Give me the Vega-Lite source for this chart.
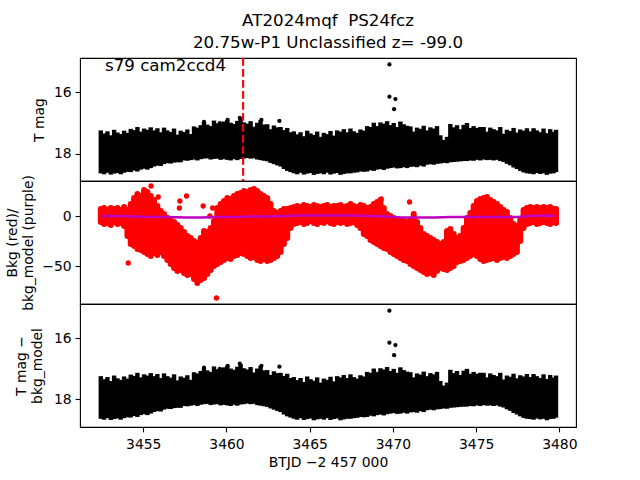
{
"$schema": "https://vega.github.io/schema/vega-lite/v6.json",
"padding": {"left": 4, "top": 12, "right": 5, "bottom": 5},
"spacing": 0,
"bounds": "flush",
"config": {
  "font": "DejaVu Sans",
  "view": {"stroke": "black", "strokeWidth": 1.1},
  "axis": {"labelFont": "DejaVu Sans", "titleFont": "DejaVu Sans", "labelFontSize": 13.9, "titleFontSize": 13.9, "labelColor": "black", "titleColor": "black", "tickColor": "black", "tickSize": 4.9, "tickWidth": 1.1, "labelPadding": 4, "domain": false, "grid": false, "titleFontWeight": "normal", "titleLineHeight": 16.7}
},
"datasets": {
  "lc": [
    {"t":3452.45,"hi":17.24,"lo":18.64},{"t":3452.65,"hi":17.34,"lo":18.67},{"t":3452.85,"hi":17.27,"lo":18.62},{"t":3453.05,"hi":17.40,"lo":18.68},
    {"t":3453.25,"hi":17.22,"lo":18.65},{"t":3453.45,"hi":17.31,"lo":18.63},{"t":3453.65,"hi":17.36,"lo":18.67},{"t":3453.85,"hi":17.25,"lo":18.62},
    {"t":3454.05,"hi":17.32,"lo":18.59},{"t":3454.25,"hi":17.19,"lo":18.60},{"t":3454.45,"hi":17.23,"lo":18.55},{"t":3454.65,"hi":17.13,"lo":18.58},
    {"t":3454.85,"hi":17.28,"lo":18.52},{"t":3455.05,"hi":17.18,"lo":18.49},{"t":3455.25,"hi":17.22,"lo":18.52},{"t":3455.45,"hi":17.14,"lo":18.47},
    {"t":3455.65,"hi":17.24,"lo":18.42},{"t":3455.85,"hi":17.17,"lo":18.39},{"t":3456.05,"hi":17.30,"lo":18.40},{"t":3456.25,"hi":17.15,"lo":18.34},
    {"t":3456.45,"hi":17.24,"lo":18.31},{"t":3456.65,"hi":17.29,"lo":18.32},{"t":3456.85,"hi":17.18,"lo":18.29},{"t":3457.05,"hi":17.38,"lo":18.28},
    {"t":3457.25,"hi":17.25,"lo":18.28},{"t":3457.45,"hi":17.29,"lo":18.22},{"t":3457.65,"hi":17.21,"lo":18.23},{"t":3457.85,"hi":17.36,"lo":18.21},
    {"t":3458.05,"hi":17.11,"lo":18.19},{"t":3458.25,"hi":17.15,"lo":18.22},{"t":3458.45,"hi":17.07,"lo":18.18},{"t":3458.65,"hi":16.97,"lo":18.16},
    {"t":3458.85,"hi":17.05,"lo":18.15},{"t":3459.05,"hi":17.10,"lo":18.19},{"t":3459.25,"hi":16.92,"lo":18.17},{"t":3459.45,"hi":17.01,"lo":18.16},
    {"t":3459.65,"hi":16.98,"lo":18.20},{"t":3459.85,"hi":16.95,"lo":18.18},{"t":3460.05,"hi":16.90,"lo":18.20},{"t":3460.25,"hi":16.99,"lo":18.22},
    {"t":3460.45,"hi":17.03,"lo":18.18},{"t":3460.65,"hi":16.93,"lo":18.21},{"t":3460.85,"hi":16.84,"lo":18.17},{"t":3461.05,"hi":16.98,"lo":18.16},
    {"t":3461.25,"hi":17.02,"lo":18.14},{"t":3461.45,"hi":16.94,"lo":18.16},{"t":3461.65,"hi":17.12,"lo":18.15},{"t":3461.85,"hi":16.99,"lo":18.19},
    {"t":3462.05,"hi":16.90,"lo":18.21},{"t":3462.25,"hi":17.05,"lo":18.23},{"t":3462.45,"hi":17.04,"lo":18.25},{"t":3462.65,"hi":17.20,"lo":18.30},
    {"t":3462.85,"hi":17.08,"lo":18.34},{"t":3463.05,"hi":17.14,"lo":18.38},{"t":3463.25,"hi":17.13,"lo":18.42},{"t":3463.45,"hi":17.23,"lo":18.50},
    {"t":3463.65,"hi":17.16,"lo":18.56},{"t":3463.85,"hi":17.30,"lo":18.60},{"t":3464.05,"hi":17.27,"lo":18.64},{"t":3464.25,"hi":17.37,"lo":18.67},
    {"t":3464.45,"hi":17.30,"lo":18.62},{"t":3464.65,"hi":17.43,"lo":18.68},{"t":3464.85,"hi":17.25,"lo":18.65},{"t":3465.05,"hi":17.34,"lo":18.63},
    {"t":3465.25,"hi":17.39,"lo":18.69},{"t":3465.45,"hi":17.28,"lo":18.66},{"t":3465.65,"hi":17.45,"lo":18.64},{"t":3465.85,"hi":17.32,"lo":18.67},
    {"t":3466.05,"hi":17.36,"lo":18.62},{"t":3466.25,"hi":17.26,"lo":18.68},{"t":3466.45,"hi":17.41,"lo":18.65},{"t":3466.65,"hi":17.24,"lo":18.63},
    {"t":3466.85,"hi":17.28,"lo":18.69},{"t":3467.05,"hi":17.20,"lo":18.66},{"t":3467.25,"hi":17.30,"lo":18.64},{"t":3467.45,"hi":17.18,"lo":18.64},
    {"t":3467.65,"hi":17.27,"lo":18.62},{"t":3467.85,"hi":17.32,"lo":18.61},{"t":3468.05,"hi":17.21,"lo":18.58},{"t":3468.25,"hi":17.25,"lo":18.59},
    {"t":3468.45,"hi":17.10,"lo":18.58},{"t":3468.65,"hi":17.13,"lo":18.54},{"t":3468.85,"hi":16.99,"lo":18.56},{"t":3469.05,"hi":17.10,"lo":18.52},
    {"t":3469.25,"hi":16.98,"lo":18.50},{"t":3469.45,"hi":17.02,"lo":18.53},{"t":3469.65,"hi":16.94,"lo":18.49},{"t":3469.85,"hi":17.07,"lo":18.47},
    {"t":3470.05,"hi":17.00,"lo":18.45},{"t":3470.25,"hi":17.13,"lo":18.48},{"t":3470.45,"hi":16.95,"lo":18.47},{"t":3470.65,"hi":17.04,"lo":18.44},
    {"t":3470.85,"hi":17.09,"lo":18.47},{"t":3471.05,"hi":17.11,"lo":18.43},{"t":3471.25,"hi":17.28,"lo":18.42},{"t":3471.45,"hi":17.15,"lo":18.44},
    {"t":3471.65,"hi":17.19,"lo":18.39},{"t":3471.85,"hi":17.09,"lo":18.42},{"t":3472.05,"hi":17.24,"lo":18.36},{"t":3472.25,"hi":17.14,"lo":18.34},
    {"t":3472.45,"hi":17.18,"lo":18.36},{"t":3472.65,"hi":17.10,"lo":18.33},{"t":3472.85,"hi":17.40,"lo":18.32},{"t":3473.05,"hi":17.55,"lo":18.30},
    {"t":3473.25,"hi":17.45,"lo":18.31},{"t":3473.45,"hi":17.03,"lo":18.28},{"t":3473.65,"hi":17.14,"lo":18.27},{"t":3473.85,"hi":17.07,"lo":18.26},
    {"t":3474.05,"hi":17.20,"lo":18.25},{"t":3474.25,"hi":17.06,"lo":18.24},{"t":3474.45,"hi":17.00,"lo":18.24},{"t":3474.65,"hi":17.16,"lo":18.22},
    {"t":3474.85,"hi":17.10,"lo":18.23},{"t":3475.05,"hi":17.16,"lo":18.20},{"t":3475.25,"hi":17.13,"lo":18.22},{"t":3475.45,"hi":17.13,"lo":18.19},
    {"t":3475.65,"hi":17.28,"lo":18.21},{"t":3475.85,"hi":17.15,"lo":18.20},{"t":3476.05,"hi":17.20,"lo":18.22},{"t":3476.25,"hi":17.24,"lo":18.20},
    {"t":3476.45,"hi":17.13,"lo":18.24},{"t":3476.65,"hi":17.35,"lo":18.27},{"t":3476.85,"hi":17.22,"lo":18.33},{"t":3477.05,"hi":17.26,"lo":18.38},
    {"t":3477.25,"hi":17.16,"lo":18.45},{"t":3477.45,"hi":17.31,"lo":18.50},{"t":3477.65,"hi":17.21,"lo":18.56},{"t":3477.85,"hi":17.25,"lo":18.61},
    {"t":3478.05,"hi":17.17,"lo":18.64},{"t":3478.25,"hi":17.27,"lo":18.65},{"t":3478.45,"hi":17.17,"lo":18.67},{"t":3478.65,"hi":17.24,"lo":18.63},
    {"t":3478.85,"hi":17.30,"lo":18.66},{"t":3479.05,"hi":17.18,"lo":18.64},{"t":3479.25,"hi":17.33,"lo":18.69},{"t":3479.45,"hi":17.20,"lo":18.65},
    {"t":3479.65,"hi":17.29,"lo":18.64},{"t":3479.80,"hi":17.22,"lo":18.60}
  ],
  "out": [
    {"t":3469.79,"mag":15.09},{"t":3469.79,"mag":16.14},{"t":3470.15,"mag":16.22},{"t":3470.07,"mag":16.55},{"t":3463.18,"mag":16.93},
    {"t":3458.65,"mag":16.96},{"t":3459.6,"mag":17.0},{"t":3460.07,"mag":16.9},{"t":3460.8,"mag":16.83},{"t":3462.1,"mag":16.9}
  ],
  "bkg": [
    {"t":3452.45,"hi":7,"lo":-6},{"t":3452.65,"hi":8,"lo":-8},{"t":3452.85,"hi":6,"lo":-7},{"t":3453.05,"hi":8,"lo":-9},
    {"t":3453.25,"hi":7,"lo":-6},{"t":3453.45,"hi":8,"lo":-8},{"t":3453.65,"hi":6,"lo":-7},{"t":3453.85,"hi":9,"lo":-10},
    {"t":3454.05,"hi":6,"lo":-20},{"t":3454.25,"hi":12,"lo":-28},{"t":3454.45,"hi":18,"lo":-30},{"t":3454.65,"hi":22,"lo":-33},
    {"t":3454.85,"hi":20,"lo":-34},{"t":3455.05,"hi":26,"lo":-36},{"t":3455.25,"hi":24,"lo":-38},{"t":3455.45,"hi":20,"lo":-40},
    {"t":3455.65,"hi":16,"lo":-37},{"t":3455.85,"hi":10,"lo":-39},{"t":3456.05,"hi":5,"lo":-36},{"t":3456.25,"hi":2,"lo":-40},
    {"t":3456.45,"hi":-2,"lo":-44},{"t":3456.65,"hi":-4,"lo":-48},{"t":3456.85,"hi":-6,"lo":-52},{"t":3457.05,"hi":-9,"lo":-55},
    {"t":3457.25,"hi":-12,"lo":-54},{"t":3457.45,"hi":-16,"lo":-57},{"t":3457.65,"hi":-20,"lo":-59},{"t":3457.85,"hi":-22,"lo":-58},
    {"t":3458.05,"hi":-25,"lo":-63},{"t":3458.25,"hi":-27,"lo":-67},{"t":3458.45,"hi":-22,"lo":-64},{"t":3458.65,"hi":-15,"lo":-62},
    {"t":3458.85,"hi":-16,"lo":-58},{"t":3459.05,"hi":-12,"lo":-54},{"t":3459.25,"hi":-5,"lo":-50},{"t":3459.45,"hi":8,"lo":-48},
    {"t":3459.65,"hi":12,"lo":-46},{"t":3459.85,"hi":15,"lo":-44},{"t":3460.05,"hi":18,"lo":-42},{"t":3460.25,"hi":17,"lo":-43},
    {"t":3460.45,"hi":20,"lo":-40},{"t":3460.65,"hi":22,"lo":-39},{"t":3460.85,"hi":23,"lo":-37},{"t":3461.05,"hi":25,"lo":-38},
    {"t":3461.25,"hi":24,"lo":-40},{"t":3461.45,"hi":26,"lo":-42},{"t":3461.65,"hi":27,"lo":-41},{"t":3461.85,"hi":25,"lo":-44},
    {"t":3462.05,"hi":22,"lo":-45},{"t":3462.25,"hi":20,"lo":-43},{"t":3462.45,"hi":18,"lo":-45},{"t":3462.65,"hi":12,"lo":-44},
    {"t":3462.85,"hi":5,"lo":-42},{"t":3463.05,"hi":3,"lo":-40},{"t":3463.25,"hi":5,"lo":-36},{"t":3463.45,"hi":7,"lo":-28},
    {"t":3463.65,"hi":7,"lo":-22},{"t":3463.85,"hi":8,"lo":-12},{"t":3464.05,"hi":9,"lo":-8},{"t":3464.25,"hi":10,"lo":-7},
    {"t":3464.45,"hi":9,"lo":-6},{"t":3464.65,"hi":11,"lo":-8},{"t":3464.85,"hi":10,"lo":-7},{"t":3465.05,"hi":9,"lo":-5},
    {"t":3465.25,"hi":11,"lo":-7},{"t":3465.45,"hi":10,"lo":-8},{"t":3465.65,"hi":9,"lo":-6},{"t":3465.85,"hi":10,"lo":-7},
    {"t":3466.05,"hi":11,"lo":-5},{"t":3466.25,"hi":9,"lo":-7},{"t":3466.45,"hi":10,"lo":-8},{"t":3466.65,"hi":10,"lo":-6},
    {"t":3466.85,"hi":11,"lo":-7},{"t":3467.05,"hi":9,"lo":-6},{"t":3467.25,"hi":10,"lo":-8},{"t":3467.45,"hi":12,"lo":-7},
    {"t":3467.65,"hi":10,"lo":-6},{"t":3467.85,"hi":9,"lo":-9},{"t":3468.05,"hi":11,"lo":-12},{"t":3468.25,"hi":10,"lo":-18},
    {"t":3468.45,"hi":8,"lo":-20},{"t":3468.65,"hi":9,"lo":-24},{"t":3468.85,"hi":12,"lo":-26},{"t":3469.05,"hi":14,"lo":-28},
    {"t":3469.25,"hi":16,"lo":-30},{"t":3469.45,"hi":8,"lo":-32},{"t":3469.65,"hi":2,"lo":-33},{"t":3469.85,"hi":0,"lo":-36},
    {"t":3470.05,"hi":-2,"lo":-38},{"t":3470.25,"hi":-3,"lo":-40},{"t":3470.45,"hi":-4,"lo":-42},{"t":3470.65,"hi":-5,"lo":-44},
    {"t":3470.85,"hi":-6,"lo":-45},{"t":3471.05,"hi":-4,"lo":-48},{"t":3471.25,"hi":2,"lo":-50},{"t":3471.45,"hi":-6,"lo":-52},
    {"t":3471.65,"hi":-12,"lo":-54},{"t":3471.85,"hi":-18,"lo":-56},{"t":3472.05,"hi":-20,"lo":-58},{"t":3472.25,"hi":-22,"lo":-57},
    {"t":3472.45,"hi":-24,"lo":-59},{"t":3472.65,"hi":-26,"lo":-55},{"t":3472.85,"hi":-28,"lo":-52},{"t":3473.05,"hi":-26,"lo":-53},
    {"t":3473.25,"hi":-15,"lo":-54},{"t":3473.45,"hi":-13,"lo":-52},{"t":3473.65,"hi":-18,"lo":-50},{"t":3473.85,"hi":-22,"lo":-46},
    {"t":3474.05,"hi":-20,"lo":-45},{"t":3474.25,"hi":-12,"lo":-44},{"t":3474.45,"hi":-2,"lo":-42},{"t":3474.65,"hi":3,"lo":-40},
    {"t":3474.85,"hi":10,"lo":-38},{"t":3475.05,"hi":15,"lo":-40},{"t":3475.25,"hi":17,"lo":-43},{"t":3475.45,"hi":18,"lo":-45},
    {"t":3475.65,"hi":19,"lo":-44},{"t":3475.85,"hi":16,"lo":-43},{"t":3476.05,"hi":14,"lo":-42},{"t":3476.25,"hi":12,"lo":-44},
    {"t":3476.45,"hi":9,"lo":-42},{"t":3476.65,"hi":6,"lo":-41},{"t":3476.85,"hi":4,"lo":-42},{"t":3477.05,"hi":-2,"lo":-40},
    {"t":3477.25,"hi":-8,"lo":-38},{"t":3477.45,"hi":-10,"lo":-36},{"t":3477.65,"hi":-4,"lo":-25},{"t":3477.85,"hi":6,"lo":-12},
    {"t":3478.05,"hi":8,"lo":-8},{"t":3478.25,"hi":9,"lo":-7},{"t":3478.45,"hi":8,"lo":-6},{"t":3478.65,"hi":9,"lo":-8},
    {"t":3478.85,"hi":8,"lo":-7},{"t":3479.05,"hi":9,"lo":-6},{"t":3479.25,"hi":8,"lo":-7},{"t":3479.45,"hi":9,"lo":-8},
    {"t":3479.65,"hi":7,"lo":-6},{"t":3479.80,"hi":7,"lo":-7}
  ],
  "bkgout": [
    {"t":3455.47,"v":30},{"t":3454.1,"v":-47},{"t":3455.9,"v":19},{"t":3457.17,"v":8},{"t":3457.2,"v":15},{"t":3457.6,"v":20},
    {"t":3458.6,"v":10},{"t":3459.17,"v":8},{"t":3459.0,"v":0},{"t":3459.4,"v":-82},{"t":3471.0,"v":14},{"t":3469.3,"v":17}
  ],
  "model": [
    {"t":3452.45,"m":0},{"t":3453.5,"m":0},{"t":3454.5,"m":-0.5},{"t":3455.5,"m":-1},{"t":3456.5,"m":-1},{"t":3457.5,"m":-1.5},
    {"t":3458.5,"m":-1.5},{"t":3459.5,"m":-1},{"t":3460.5,"m":-1},{"t":3461.5,"m":-0.5},{"t":3462.5,"m":-0.5},{"t":3463.5,"m":0},
    {"t":3464.5,"m":0.5},{"t":3465.5,"m":0.5},{"t":3466.5,"m":0.5},{"t":3467.5,"m":0.5},{"t":3468.5,"m":0},{"t":3469.5,"m":-0.5},
    {"t":3470.5,"m":-1.5},{"t":3471.5,"m":-1.5},{"t":3472.5,"m":-1.5},{"t":3473.5,"m":-1},{"t":3474.5,"m":-1},{"t":3475.5,"m":-1},
    {"t":3476.5,"m":-1},{"t":3477.5,"m":-1},{"t":3478.2,"m":0},{"t":3479.0,"m":0.5},{"t":3479.8,"m":0}
  ]
},
"vconcat": [
  {
    "width": 496, "height": 123,
    "title": {"text": ["AT2024mqf \u00a0PS24fcz", "20.75w-P1 Unclassified z= -99.0"], "font": "DejaVu Sans", "fontSize": 16.7, "fontWeight": "normal", "color": "black", "anchor": "middle", "frame": "group", "offset": 5, "lineHeight": 22},
    "layer": [
      {"data": {"name": "lc"}, "mark": {"type": "rule", "color": "black", "strokeWidth": 4.4},
       "encoding": {
         "x": {"field": "t", "type": "quantitative", "scale": {"domain": [3451.2, 3481.0], "nice": false, "zero": false}, "axis": null},
         "y": {"field": "hi", "type": "quantitative", "scale": {"domain": [14.88, 18.89], "reverse": true, "nice": false, "zero": false}, "axis": {"values": [16, 18], "title": "T mag", "titleBaseline": "middle", "titleX": -41}},
         "y2": {"field": "lo"}}},
      {"data": {"name": "out"}, "mark": {"type": "circle", "color": "black", "size": 18, "opacity": 1},
       "encoding": {"x": {"field": "t", "type": "quantitative"}, "y": {"field": "mag", "type": "quantitative"}}},
      {"data": {"values": [{"t": 3461.0}]}, "mark": {"type": "rule", "color": "red", "strokeWidth": 2.1, "strokeDash": [7.7, 3.3]},
       "encoding": {"x": {"field": "t", "type": "quantitative"}}},
      {"data": {"values": [{"t": 3452.7, "mag": 15.30, "label": "s79 cam2ccd4"}]}, "mark": {"type": "text", "align": "left", "baseline": "alphabetic", "font": "DejaVu Sans", "fontSize": 16.7, "color": "black"},
       "encoding": {"x": {"field": "t", "type": "quantitative"}, "y": {"field": "mag", "type": "quantitative"}, "text": {"field": "label"}}}
    ]
  },
  {
    "width": 496, "height": 123,
    "layer": [
      {"data": {"name": "bkg"}, "mark": {"type": "rule", "color": "#ff0000", "strokeWidth": 6, "strokeCap": "round"},
       "encoding": {
         "x": {"field": "t", "type": "quantitative", "scale": {"domain": [3451.2, 3481.0], "nice": false, "zero": false}, "axis": null},
         "y": {"field": "hi", "type": "quantitative", "scale": {"domain": [-88, 35], "nice": false, "zero": false}, "axis": {"values": [0, -50], "title": ["Bkg (red)/", "bkg_model (purple)"], "titleBaseline": "middle", "titleX": -68}},
         "y2": {"field": "lo"}}},
      {"data": {"name": "bkgout"}, "mark": {"type": "circle", "color": "#ff0000", "size": 28, "opacity": 1},
       "encoding": {"x": {"field": "t", "type": "quantitative"}, "y": {"field": "v", "type": "quantitative"}}},
      {"data": {"name": "model"}, "mark": {"type": "line", "color": "#bf00bf", "strokeWidth": 2.5},
       "encoding": {"x": {"field": "t", "type": "quantitative"}, "y": {"field": "m", "type": "quantitative"}}}
    ]
  },
  {
    "width": 496, "height": 123,
    "layer": [
      {"data": {"name": "lc"}, "mark": {"type": "rule", "color": "black", "strokeWidth": 4.4},
       "encoding": {
         "x": {"field": "t", "type": "quantitative", "scale": {"domain": [3451.2, 3481.0], "nice": false, "zero": false}, "axis": {"values": [3455, 3460, 3465, 3470, 3475, 3480], "format": "d", "title": "BTJD −2 457 000", "labelPadding": 6, "titlePadding": 4}},
         "y": {"field": "hi", "type": "quantitative", "scale": {"domain": [14.87, 18.91], "reverse": true, "nice": false, "zero": false}, "axis": {"values": [16, 18], "title": ["T mag −", "bkg_model"], "titleBaseline": "middle", "titleX": -59}},
         "y2": {"field": "lo"}}},
      {"data": {"name": "out"}, "mark": {"type": "circle", "color": "black", "size": 18, "opacity": 1},
       "encoding": {"x": {"field": "t", "type": "quantitative"}, "y": {"field": "mag", "type": "quantitative"}}}
    ]
  }
]
}
